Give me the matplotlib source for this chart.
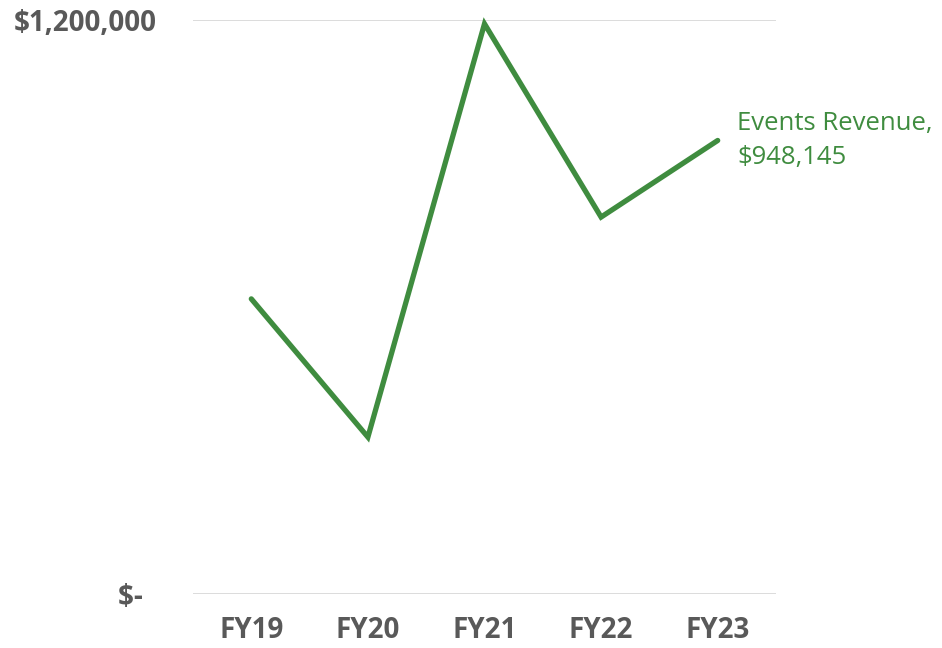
import matplotlib.pyplot as plt
import matplotlib.ticker as mticker

years = ['FY19', 'FY20', 'FY21', 'FY22', 'FY23']
revenue = [617000, 328000, 1192000, 788000, 948145]
series_name = 'Events Revenue'

green = '#3f8c3f'
grey = '#595959'

plt.rcParams['font.family'] = ['Open Sans', 'DejaVu Sans']

fig = plt.figure(figsize=(9.42, 6.48), dpi=100)
ax = fig.add_axes([193 / 942, 54 / 648, 583 / 942, 574 / 648])

x = range(len(years))
ax.plot(x, revenue, color=green, linewidth=3.8, solid_capstyle='round',
        solid_joinstyle='miter', clip_on=False)

ax.set_xlim(-0.5, len(years) - 0.5)
ax.set_ylim(0, 1200000)
ax.set_yticks([0, 1200000])
# accounting style: zero shown as a dash, padded on the right
ax.yaxis.set_major_formatter(mticker.FuncFormatter(
    lambda v, p: '$-  ' if v == 0 else f'${v:,.0f}'))
ax.set_xticks(list(x))
ax.set_xticklabels(years)

ax.grid(axis='y', color='#d9d9d9', linewidth=1.3)
ax.set_axisbelow(True)
for s in ax.spines.values():
    s.set_visible(False)
ax.tick_params(length=0, labelsize=20, labelcolor=grey)
ax.tick_params(axis='x', pad=16)
ax.tick_params(axis='y', pad=26)
for lbl in ax.get_xticklabels() + ax.get_yticklabels():
    lbl.set_fontweight('bold')

# label at the end of the line
ax.annotate(f'{series_name},\n${revenue[-1]:,.0f}', xy=(x[-1], revenue[-1]),
            xytext=(14, 0), textcoords='offset points', color=green,
            fontsize=18.5, va='center', ha='left', linespacing=1.5,
            annotation_clip=False)

fig.savefig('out.png', dpi=100)
